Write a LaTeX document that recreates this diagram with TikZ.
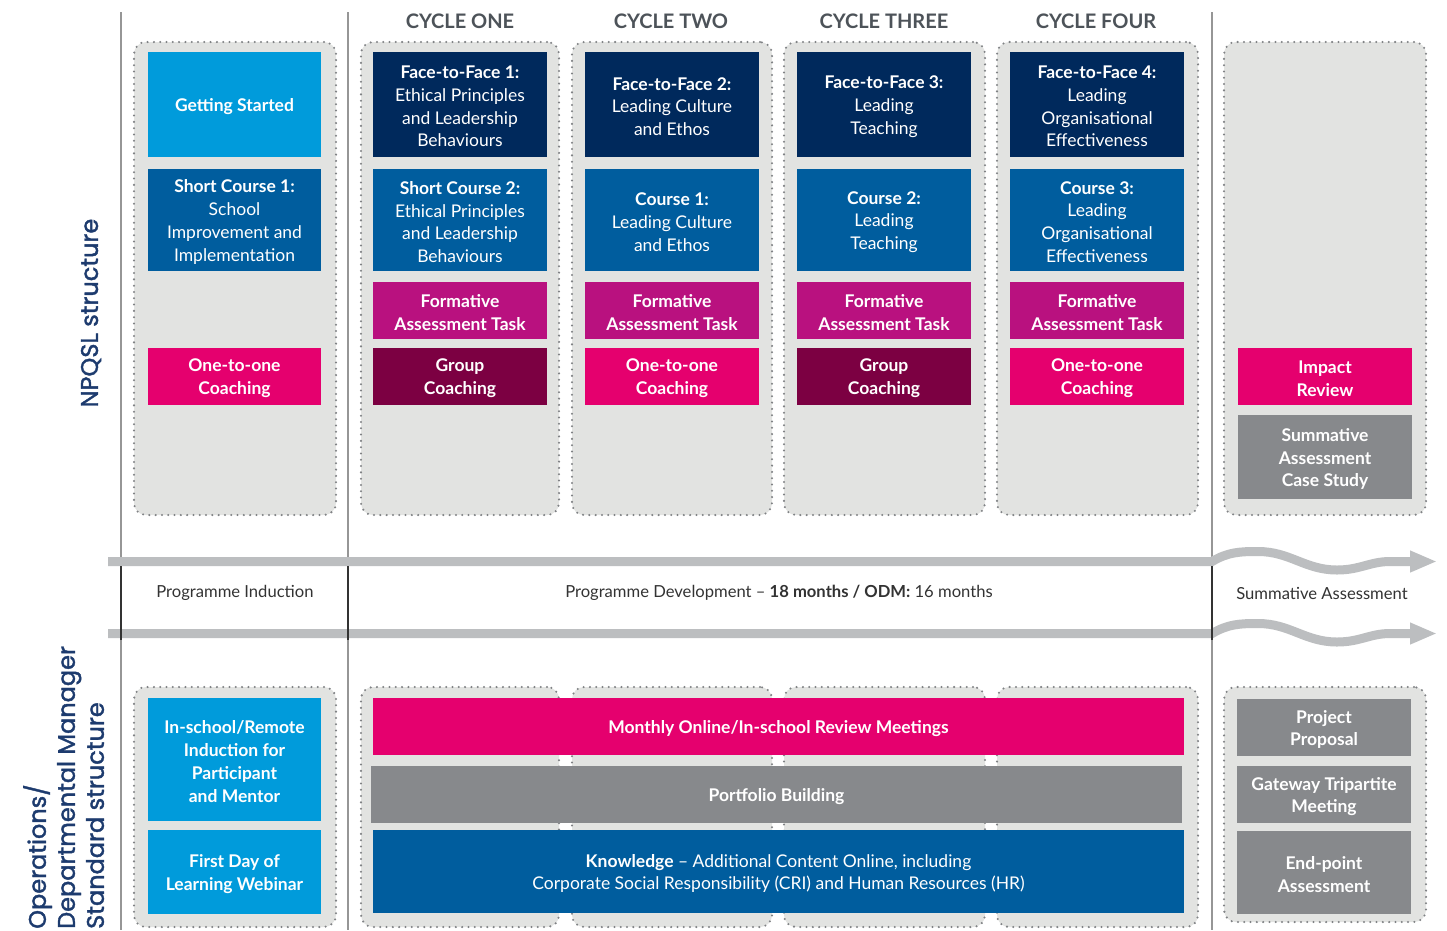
\documentclass[tikz,border=0pt]{standalone}
\usepackage{fontspec}
\setmainfont{Lato}
\newfontfamily\popfont[FakeBold=1.6]{Poppins}
\usetikzlibrary{arrows.meta}
\definecolor{lblue}{RGB}{0,155,219}
\definecolor{navy}{RGB}{0,41,92}
\definecolor{mblue}{RGB}{0,93,158}
\definecolor{magent}{RGB}{185,17,127}
\definecolor{maroon}{RGB}{124,0,66}
\definecolor{pink}{RGB}{229,0,110}
\definecolor{gbox}{RGB}{135,137,140}
\definecolor{colfill}{RGB}{226,227,225}
\definecolor{dotc}{RGB}{128,130,133}
\definecolor{vline}{RGB}{150,150,150}
\definecolor{band}{RGB}{188,190,192}
\definecolor{hdr}{RGB}{77,83,89}
\definecolor{midtxt}{RGB}{51,51,51}
\definecolor{lab}{RGB}{29,59,110}
\newcommand\cell[7]{%
  \pgfmathsetmacro\cw{#4-#2}\pgfmathsetmacro\ch{#5-#3}%
  \node[cellfill, fill=#6, minimum width=\cw pt, minimum height=\ch pt] (#1) at ({(#2+#4)/2},{(#3+#5)/2}) {};
  \node[celltext] (#1-t) at ([yshift=-2pt]#1.center) {#7};}
\newcommand\bcell[7]{%
  \pgfmathsetmacro\cw{#4-#2}\pgfmathsetmacro\ch{#5-#3}%
  \node[cellfill, fill=#6, minimum width=\cw pt, minimum height=\ch pt] (#1) at ({(#2+#4)/2},{(#3+#5)/2}) {};
  \node[celltext, boldtext] (#1-t) at ([yshift=-2pt]#1.center) {#7};}
\newcommand\colbg[5]{%
  \pgfmathsetmacro\cw{#4-#2}\pgfmathsetmacro\ch{#5-#3}%
  \node[colbox, minimum width=\cw pt, minimum height=\ch pt] (#1) at ({(#2+#4)/2},{(#3+#5)/2}) {};}
\begin{document}
\begin{tikzpicture}[x=1pt,y=-1pt,
  cellfill/.style={inner sep=0pt},
  celltext/.style={inner sep=0pt, align=center, text=white, font=\fontsize{17.5}{22.8}\selectfont},
  boldtext/.style={font=\fontsize{17.5}{22.8}\selectfont\bfseries},
  colbox/.style={inner sep=0pt, fill=colfill, draw=dotc, line width=2.3pt, line cap=round, dash pattern=on 0pt off 6.3pt, rounded corners=12pt},
  hdrtext/.style={font=\fontsize{20}{24}\selectfont\bfseries, text=hdr},
  midlabel/.style={font=\fontsize{16.6}{20}\selectfont, text=midtxt},
  vl/.style={draw=vline, line width=1.5pt},
  vdark/.style={draw=midtxt, line width=2pt},
  bandarrow/.style={draw=band, line width=9pt, -{Triangle[length=27pt,width=20pt]}},
  sidelabel/.style={font=\fontsize{24}{29}\selectfont\popfont, text=lab, rotate=90, inner sep=0pt}]
\useasboundingbox (0,0) rectangle (1447,930);
\fill[white] (0,0) rectangle (1447,930);
% vertical lines
\draw[vl] (121,12) -- (121,930);
\draw[vl] (348,12) -- (348,930);
\draw[vl] (1212,12) -- (1212,930);
% headers
\node[hdrtext] (h1) at (460,21) {CYCLE ONE};
\node[hdrtext] (h2) at (671,21) {CYCLE TWO};
\node[hdrtext] (h3) at (884,21) {CYCLE THREE};
\node[hdrtext] (h4) at (1096,21) {CYCLE FOUR};
% side labels
\node[sidelabel] (npqsl) at (91,313) {NPQSL structure};
\node[sidelabel, anchor=north west, align=left] (ops) at (23,929) {Operations/\\Departmental Manager\\Standard structure};
% top column backgrounds
\colbg{t0}{134}{42}{336}{515}
\colbg{t1}{361}{42}{559}{515}
\colbg{t2}{572}{42}{772}{515}
\colbg{t3}{784}{42}{985}{515}
\colbg{t4}{997}{42}{1198}{515}
\colbg{t5}{1224}{42}{1426}{515}
% bottom column backgrounds
\colbg{b0}{134}{687}{336}{927}
\colbg{b1}{361}{687}{559}{927}
\colbg{b2}{572}{687}{772}{927}
\colbg{b3}{784}{687}{985}{927}
\colbg{b4}{997}{687}{1198}{927}
\colbg{b5}{1224}{687}{1426}{922}
% column 0 top
\bcell{gs}{148}{52}{321}{157}{lblue}{Getting Started}
\cell{sc1}{148}{169}{321}{271}{mblue}{\textbf{Short Course 1:}\\School\\Improvement and\\Implementation}
\bcell{oo0}{148}{348}{321}{405}{pink}{One-to-one\\Coaching}
% column 1
\cell{ff1}{373}{52}{547}{157}{navy}{\textbf{Face-to-Face 1:}\\Ethical Principles\\and Leadership\\Behaviours}
\cell{sc2}{373}{169}{547}{271}{mblue}{\textbf{Short Course 2:}\\Ethical Principles\\and Leadership\\Behaviours}
\bcell{fa1}{373}{282}{547}{339}{magent}{Formative\\Assessment Task}
\bcell{gc1}{373}{348}{547}{405}{maroon}{Group\\Coaching}
% column 2
\cell{ff2}{585}{52}{759}{157}{navy}{\textbf{Face-to-Face 2:}\\Leading Culture\\and Ethos}
\cell{co1}{585}{169}{759}{271}{mblue}{\textbf{Course 1:}\\Leading Culture\\and Ethos}
\bcell{fa2}{585}{282}{759}{339}{magent}{Formative\\Assessment Task}
\bcell{oo2}{585}{348}{759}{405}{pink}{One-to-one\\Coaching}
% column 3
\cell{ff3}{797}{52}{971}{157}{navy}{\textbf{Face-to-Face 3:}\\Leading\\Teaching}
\cell{co2}{797}{169}{971}{271}{mblue}{\textbf{Course 2:}\\Leading\\Teaching}
\bcell{fa3}{797}{282}{971}{339}{magent}{Formative\\Assessment Task}
\bcell{gc3}{797}{348}{971}{405}{maroon}{Group\\Coaching}
% column 4
\cell{ff4}{1010}{52}{1184}{157}{navy}{\textbf{Face-to-Face 4:}\\Leading\\Organisational\\Effectiveness}
\cell{co3}{1010}{169}{1184}{271}{mblue}{\textbf{Course 3:}\\Leading\\Organisational\\Effectiveness}
\bcell{fa4}{1010}{282}{1184}{339}{magent}{Formative\\Assessment Task}
\bcell{oo4}{1010}{348}{1184}{405}{pink}{One-to-one\\Coaching}
% column 5
\bcell{ir}{1238}{348}{1412}{405}{pink}{Impact\\Review}
\bcell{sacs}{1238}{415}{1412}{499}{gbox}{Summative\\Assessment\\Case Study}
% bottom
\bcell{ind}{148}{698}{321}{821}{lblue}{In-school/Remote\\Induction for\\Participant\\and Mentor}
\bcell{fdl}{148}{830}{321}{914}{lblue}{First Day of\\Learning Webinar}
\bcell{mon}{373}{698}{1184}{755}{pink}{Monthly Online/In-school Review Meetings}
\bcell{port}{371}{766}{1182}{823}{gbox}{Portfolio Building}
\cell{know}{373}{830}{1184}{913}{mblue}{\textbf{Knowledge} -- Additional Content Online, including\\Corporate Social Responsibility (CRI) and Human Resources (HR)}
\bcell{pp}{1237}{699}{1411}{756}{gbox}{Project\\Proposal}
\bcell{gtm}{1237}{766}{1411}{823}{gbox}{Gateway Tripartite\\Meeting}
\bcell{epa}{1237}{831}{1411}{914}{gbox}{End-point\\Assessment}
% timeline bands
\draw[bandarrow] (108,561.5) -- (1212,561.5) .. controls (1228,552) and (1240,551.5) .. (1258,551.5) .. controls (1290,551.5) and (1305,570) .. (1337,570) .. controls (1360,570) and (1370,561.5) .. (1390,561.5) -- (1437,561.5);
\draw[bandarrow] (108,633.5) -- (1212,633.5) .. controls (1228,624) and (1240,623.5) .. (1258,623.5) .. controls (1290,623.5) and (1305,642) .. (1337,642) .. controls (1360,642) and (1370,633.5) .. (1390,633.5) -- (1437,633.5);
\draw[vdark] (121,566) -- (121,640);
\draw[vdark] (348,566) -- (348,640);
\draw[vdark] (1212,566) -- (1212,640);
% band labels
\node[midlabel] (pi) at (235,593) {Programme Induction};
\node[midlabel] (pd) at (779,593) {Programme Development -- \textbf{18 months / ODM:} 16 months};
\node[midlabel] (sa) at (1322,593) {Summative Assessment};
\end{tikzpicture}
\end{document}
